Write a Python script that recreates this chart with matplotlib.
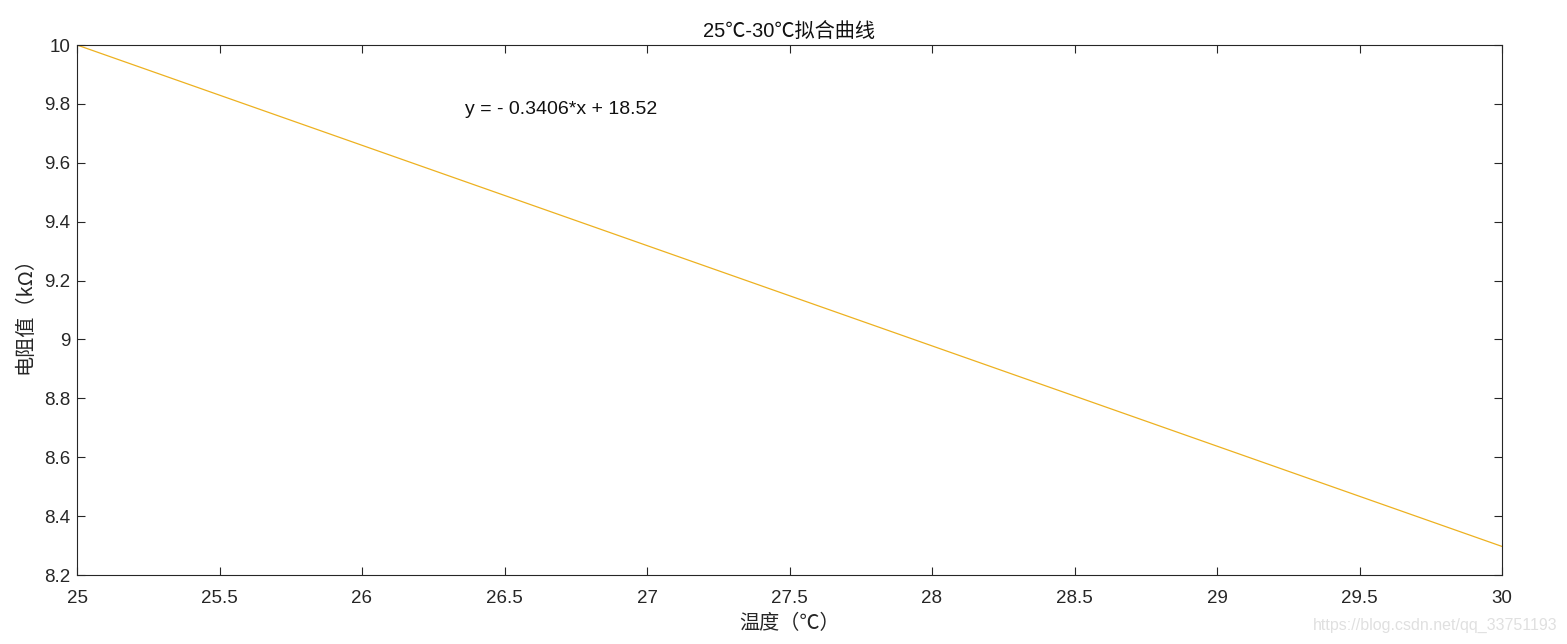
import matplotlib
matplotlib.use('Agg')
import matplotlib.pyplot as plt

# fitted line endpoints, y = -0.3406*x + 18.52
temp = [25, 30]
resist = [10.0, 8.297]

x_ticks = [25, 25.5, 26, 26.5, 27, 27.5, 28, 28.5, 29, 29.5, 30]
y_ticks = [8.2, 8.4, 8.6, 8.8, 9, 9.2, 9.4, 9.6, 9.8, 10]

sans = ['Liberation Sans', 'Noto Sans CJK SC', 'DejaVu Sans']
cjk = ['Noto Sans CJK SC', 'DejaVu Sans']
plt.rcParams['font.family'] = sans

fig = plt.figure(figsize=(15.67, 6.44), dpi=100)
ax = fig.add_axes([77 / 1567, 1 - 575 / 644, (1502 - 77) / 1567, (575 - 45) / 644])

ax.plot(temp, resist, color='#EDB120', linewidth=0.9)
ax.set_xlim(25, 30)
ax.set_ylim(8.2, 10)
ax.set_xticks(x_ticks)
ax.set_xticklabels(['25', '25.5', '26', '26.5', '27', '27.5', '28', '28.5', '29', '29.5', '30'])
ax.set_yticks(y_ticks)
ax.set_yticklabels(['8.2', '8.4', '8.6', '8.8', '9', '9.2', '9.4', '9.6', '9.8', '10'])

for s in ax.spines.values():
    s.set_color('#262626')
    s.set_linewidth(0.8)
ax.tick_params(direction='in', length=6, width=0.8, color='#262626',
               labelcolor='#262626', labelsize=13.5, top=True, right=True)
ax.tick_params(axis='x', pad=11)
ax.tick_params(axis='y', pad=5)

ax.set_title('25℃-30℃拟合曲线', fontsize=14.5, color='#111111', pad=5)
ax.set_xlabel('温度（℃）', family=cjk, fontsize=14.5, color='#262626', labelpad=4)
ax.set_ylabel('电阻值（kΩ）', family=cjk, fontsize=14.5, color='#262626', labelpad=6)

ax.text(26.36, 9.78, 'y = - 0.3406*x + 18.52', fontsize=14, color='#111111', va='center')

fig.text(1557 / 1567, 1 - 625 / 644, 'https://blog.csdn.net/qq_33751193',
         ha='right', va='center', fontsize=11.5, color='#e0e0e0')

fig.savefig('out.png', dpi=100)
